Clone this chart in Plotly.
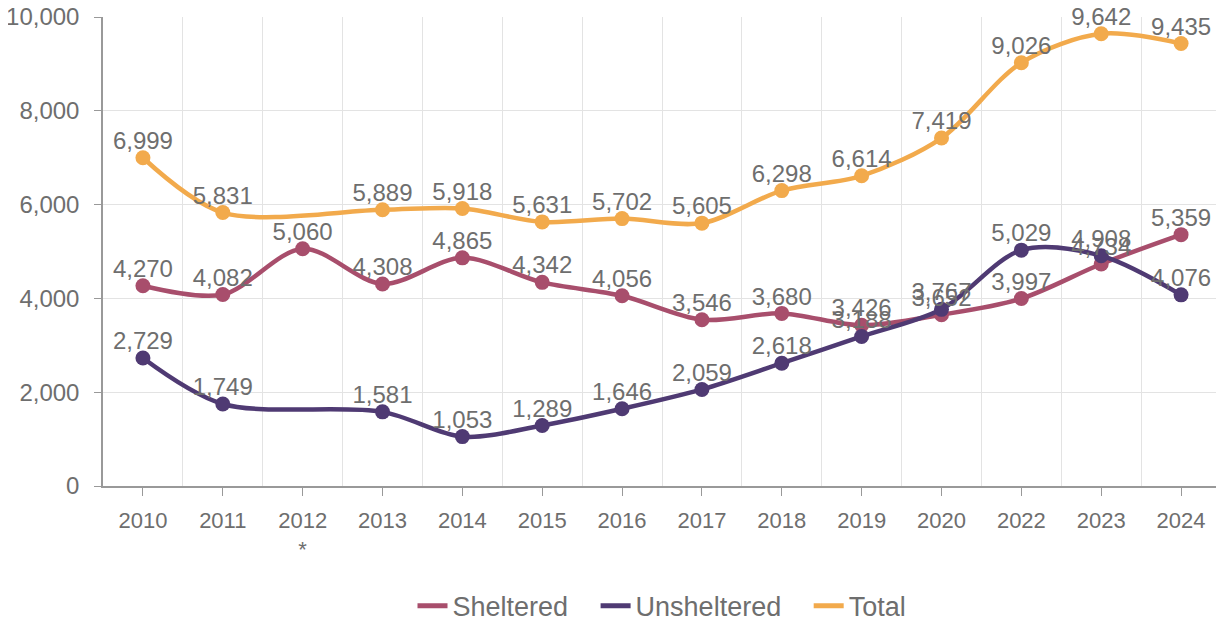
import plotly.graph_objects as go

years = ["2010", "2011", "2012", "2013", "2014", "2015", "2016", "2017",
         "2018", "2019", "2020", "2022", "2023", "2024"]
tick_text = ["2010", "2011", "2012<br>*", "2013", "2014", "2015", "2016", "2017",
             "2018", "2019", "2020", "2022", "2023", "2024"]
sheltered = [4270, 4082, 5060, 4308, 4865, 4342, 4056, 3546, 3680, 3426, 3652, 3997, 4734, 5359]
unsheltered = [2729, 1749, None, 1581, 1053, 1289, 1646, 2059, 2618, 3188, 3767, 5029, 4908, 4076]
total = [6999, 5831, None, 5889, 5918, 5631, 5702, 5605, 6298, 6614, 7419, 9026, 9642, 9435]

x = list(range(len(years)))
TEXT = "#6e6e6e"
FONT = "Liberation Sans, Arial, sans-serif"

def fmt(v):
    return "" if v is None else f"{v:,}"

series = [("Sheltered", sheltered, "#a84e6c"),
          ("Unsheltered", unsheltered, "#4f3a73"),
          ("Total", total, "#f2aa4c")]

fig = go.Figure()
for name, vals, color in series:
    fig.add_trace(go.Scatter(
        x=x, y=vals, name=name, mode="lines+markers", showlegend=False,
        line=dict(color=color, width=4.5, shape="spline", smoothing=0.9),
        marker=dict(color=color, size=15),
        connectgaps=True, hoverinfo="skip",
    ))
for name, vals, color in series:
    fig.add_trace(go.Scatter(
        x=x, y=vals, mode="markers+text", showlegend=False,
        marker=dict(size=3, color="rgba(0,0,0,0)"),
        text=[fmt(v) for v in vals], textposition="top center",
        textfont=dict(size=24, color=TEXT, family=FONT),
        cliponaxis=False, hoverinfo="skip",
    ))
# legend entries showing line only
pad = "\u00a0\u00a0\u00a0"
for i, (name, vals, color) in enumerate(series):
    fig.add_trace(go.Scatter(
        x=[None], y=[None], name=name + (pad if i < 2 else ""), mode="lines",
        line=dict(color=color, width=5),
    ))

fig.update_layout(
    width=1224, height=623,
    margin=dict(l=95, r=11, t=9, b=145),
    paper_bgcolor="white", plot_bgcolor="white",
    font=dict(family=FONT, color=TEXT, size=20),
    showlegend=True,
    legend=dict(orientation="h", x=0.5, xanchor="center",
                yref="container", y=0.04, yanchor="middle",
                font=dict(size=27, family=FONT), tracegroupgap=0),
    xaxis=dict(
        range=[-0.5, 13.5], tickvals=x, ticktext=tick_text, automargin=False,
        showgrid=False, ticks="outside", ticklen=8, tickcolor="#999",
        showline=True, linecolor="#999", linewidth=1.5, zeroline=False,
        tickfont=dict(size=22, color=TEXT), ticklabelstandoff=6,
        ticklabeloverflow="allow",
        minor=dict(tickvals=[i + 0.5 for i in range(-1, 14)], showgrid=True,
                   gridcolor="#e3e3e3", gridwidth=1, ticks=""),
    ),
    yaxis=dict(
        range=[0, 10000], tickvals=[0, 2000, 4000, 6000, 8000, 10000],
        tickformat=",", showgrid=True, gridcolor="#e3e3e3", automargin=False,
        ticks="outside", ticklen=7, tickcolor="#999",
        showline=True, linecolor="#999", linewidth=1.5, zeroline=False,
        tickfont=dict(size=24, color=TEXT), ticklabelstandoff=10,
        ticklabeloverflow="allow",
    ),
)

fig.write_html("out.html")
